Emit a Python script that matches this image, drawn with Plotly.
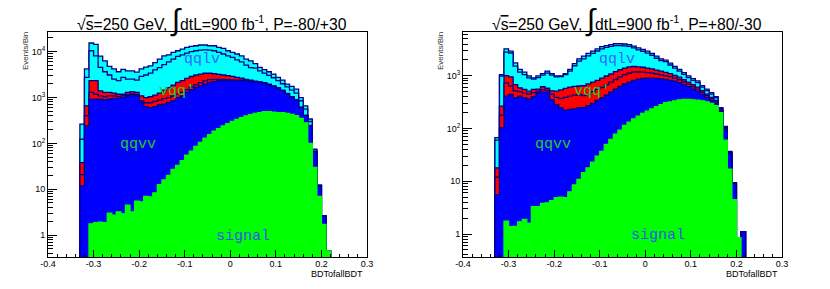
import numpy as np
import plotly.graph_objects as go

# ---------------- data ----------------
bin_edges = np.round(np.linspace(-0.33, 0.22, 56), 3)   # 55 bins of width 0.01

# Left panel: P = -80/+30  (events per bin, per component)
sig_L = [0, 0, 1.75, 1.85, 1.9, 1.85, 3.0, 2.7, 3.2, 2.9,
         4.5, 3.2, 5.5, 5.3, 7.0, 6.8, 8.3, 12.5, 16, 20,
         27, 33, 42, 55, 68, 86, 105, 130, 155, 185,
         210, 240, 270, 300, 335, 365, 395, 425, 450, 470,
         490, 490, 480, 470, 465, 450, 430, 400, 350, 280,
         100, 30, 7, 1.7, 0.45]
qqvv_L = [11.8, 240, 923, 923, 923, 888, 922, 952, 952, 997,
          1085, 1147, 1085, 775, 623, 593, 622, 678, 704, 760,
          823, 967, 1048, 1235, 1412, 1574, 1705, 1840, 1985, 2065,
          2120, 2090, 2060, 2030, 1995, 1965, 1905, 1825, 1750, 1680,
          1560, 1410, 1270, 1130, 935, 750, 590, 470, 255, 120,
          140, 35, 5, 0.9, 0]
vqq1_L = [9, 160, 365, 255, 165, 140, 165, 135, 95, 90,
          60, 50, 60, 70, 140, 170, 190, 190, 230, 220,
          230, 200, 210, 190, 200, 240, 290, 330, 310, 250,
          170, 150, 120, 90, 70, 50, 50, 40, 30, 20,
          20, 20, 20, 20, 20, 15, 15, 10, 7, 4,
          2, 1, 0, 0, 0]
vqq2_L = [17, 260, 1040, 1150, 310, 260, 200, 160, 130, 90,
          140, 150, 140, 240, 230, 270, 310, 370, 500, 650,
          790, 940, 1030, 1150, 1200, 1200, 1140, 1090, 940, 800,
          700, 620, 550, 480, 350, 270, 150, 90, 50, 30,
          30, 30, 30, 30, 30, 15, 15, 20, 8, 6,
          3, 1, 0, 0, 0]
qqlv1_L = [85, 2090, 8170, 5820, 3150, 2360, 1810, 1280, 1150, 1570,
           1240, 1180, 1110, 1810, 2100, 2360, 2870, 3250, 3750, 4350,
           5030, 5760, 6170, 6670, 7120, 7400, 7560, 7610, 7410, 7200,
           6500, 5800, 5150, 4600, 3850, 3350, 2600, 2120, 2100, 1600,
           1300, 1100, 900, 700, 550, 470, 400, 350, 230, 150,
           55, 5, 0.2, 0, 0]
qqlv2_L = [139, 1450, 5000, 6350, 3450, 2650, 1700, 1670, 1320, 1350,
           1270, 1270, 1200, 1300, 1500, 1500, 1800, 2400, 2900, 2500,
           2800, 2600, 2900, 3100, 3100, 3000, 3200, 3000, 2700, 3000,
           2700, 2900, 2350, 2200, 2300, 2100, 1800, 1800, 1120, 750,
           650, 600, 550, 400, 400, 270, 300, 270, 150, 100,
           40, 3, 0, 0, 0]

# Right panel: P = +80/-30
sig_R = [0, 0, 1.76, 1.38, 1.4, 1.7, 1.9, 1.6, 3.3, 3.3,
         3.8, 3.9, 4.3, 4.9, 5.0, 4.9, 6.3, 8.5, 10.9, 14.5,
         18, 23, 30, 37, 50, 62, 78, 93, 114, 132,
         153, 171, 193, 213, 236, 259, 285, 309, 318, 335,
         350, 355, 355, 350, 345, 335, 320, 300, 270, 200,
         60, 17, 4.5, 0.85, 0]
qqvv_R = [5.6, 103, 408, 444, 378, 408, 378, 363, 397, 471,
          486, 486, 350, 280, 240, 219, 224, 226, 239, 235,
          252, 277, 310, 343, 380, 428, 482, 537, 586, 628,
          667, 689, 697, 687, 664, 631, 585, 541, 502, 455,
          390, 325, 265, 210, 165, 105, 70, 40, 30, 15,
          35, 16, 4.5, 0, 1.1]
vqq1_R = [6.4, 77, 325, 190, 140, 90, 90, 85, 80, 35,
          50, 40, 95, 105, 125, 166, 180, 195, 190, 170,
          180, 200, 210, 220, 250, 270, 290, 320, 350, 360,
          360, 320, 280, 250, 220, 190, 170, 150, 140, 110,
          100, 80, 70, 60, 50, 40, 30, 25, 20, 10,
          5, 1, 0, 0, 0]
vqq2_R = [6, 85, 275, 315, 160, 90, 80, 60, 70, 50,
          80, 50, 70, 120, 170, 185, 200, 200, 200, 230,
          250, 260, 270, 300, 310, 320, 350, 350, 350, 360,
          320, 300, 280, 250, 230, 200, 180, 160, 140, 120,
          100, 80, 70, 60, 50, 40, 30, 25, 20, 10,
          4, 1, 0, 0, 0]
qqlv1_R = [42, 725, 1790, 1750, 840, 580, 500, 400, 310, 360,
           410, 540, 510, 440, 420, 475, 620, 920, 1260, 1450,
           1680, 1890, 2130, 2350, 2460, 2520, 2550, 2450, 2300, 2120,
           1880, 1620, 1450, 1300, 1100, 870, 730, 690, 500, 380,
           280, 220, 160, 140, 130, 90, 75, 60, 40, 10,
           4, 1, 0.3, 0, 0]
qqlv2_R = [7, 60, 440, 230, 230, 150, 120, 90, 50, 80,
           70, 110, 70, 50, 40, 50, 90, 150, 200, 250,
           270, 280, 290, 310, 290, 300, 320, 320, 300, 300,
           270, 270, 250, 230, 200, 200, 150, 130, 130, 110,
           100, 90, 80, 60, 60, 40, 35, 30, 20, 5,
           2, 1, 0.1, 0, 0]

SQRT_S = "√<span style='text-decoration:overline'>s</span>"
INTEG = "<span style='font-size:30px'>∫</span>"
titles = [SQRT_S + "=250 GeV, " + INTEG + "dtL=900 fb<sup>-1</sup>, P=-80/+30",
          SQRT_S + "=250 GeV, " + INTEG + "dtL=900 fb<sup>-1</sup>, P=+80/-30"]
x_tick_vals = [-0.4, -0.3, -0.2, -0.1, 0.0, 0.1, 0.2, 0.3]
x_tick_text = ["-0.4", "-0.3", "-0.2", "-0.1", "0", "0.1", "0.2", "0.3"]
y_tick_vals = [1, 10, 100, 1000, 10000]
y_tick_text = ["1", "10", "10<sup>2</sup>", "10<sup>3</sup>", "10<sup>4</sup>"]
x_title = "BDTofallBDT"
y_title = "Events/Bin"
# process labels: (text, x, y-value, colour)
labels_L = [("qqlv", -0.062, 6700, "#3366ff"), ("vqq'", -0.118, 1340, "#22cc22"),
            ("qqvv", -0.203, 93, "#22cc22"), ("signal", 0.027, 0.95, "#3355ee")]
labels_R = [("qqlv", -0.062, 2000, "#3366ff"), ("vqq'", -0.118, 495, "#22cc22"),
            ("qqvv", -0.203, 49, "#22cc22"), ("signal", 0.027, 0.93, "#3355ee")]

# ---------------- styling ----------------
NAVY = "#000088"
fill_cols = ["#00ff00", "#0000ff", "#ff0000", "#ff0000", "#00ffff", "#00ffff"]
line_cols = ["#00ff00", NAVY, NAVY, NAVY, NAVY, NAVY]
FLOOR = 1e-3
W, H = 830, 289
panels = [
    dict(data=[sig_L, qqvv_L, vqq1_L, vqq2_L, qqlv1_L, qqlv2_L], labels=labels_L,
         xa="x", ya="y", x0=48, x1=367, yr=[-0.48, 4.43], title=titles[0], tx=75),
    dict(data=[sig_R, qqvv_R, vqq1_R, vqq2_R, qqlv1_R, qqlv2_R], labels=labels_R,
         xa="x2", ya="y2", x0=463, x1=782, yr=[-0.436, 3.83], title=titles[1], tx=490),
]
TOP, BOT = 32, 257

fig = go.Figure()


def step_xy(vals):
    v = np.where(vals > 0, vals, FLOOR)
    xs = np.concatenate([[bin_edges[0]], bin_edges[:-1], [bin_edges[-1]], [bin_edges[-1]]])
    ys = np.concatenate([[FLOOR], v, [v[-1]], [FLOOR]])
    return xs, ys


annotations = []
minor_y = [k * 10.0 ** d for d in range(-1, 5) for k in range(2, 10)]
for i, p in enumerate(panels):
    stack = np.cumsum(np.array(p["data"], dtype=float), axis=0)
    for j in range(len(stack) - 1, -1, -1):
        xs, ys = step_xy(stack[j])
        fig.add_trace(go.Scatter(
            x=xs, y=ys, mode="lines", line=dict(shape="hv", color=line_cols[j], width=1.3),
            fill="tozeroy", fillcolor=fill_cols[j], xaxis=p["xa"], yaxis=p["ya"],
            hoverinfo="skip", showlegend=False))
    sfx = "" if i == 0 else "2"
    common_x = dict(
        domain=[p["x0"] / W, p["x1"] / W], range=[-0.4, 0.3], anchor="y" + sfx,
        tickmode="array", tickvals=x_tick_vals, ticktext=x_tick_text,
        ticks="inside", ticklen=7, tickcolor="black", tickwidth=1,
        showline=True, mirror=True, linecolor="black", linewidth=1,
        showgrid=False, zeroline=False, automargin=False, ticklabelstandoff=-2,
        tickfont=dict(family="Liberation Sans", size=9, color="black"),
        minor=dict(tickmode="linear", tick0=-0.4, dtick=0.02, ticks="inside",
                   ticklen=3, tickcolor="black", tickwidth=1, showgrid=False),
    )
    common_y = dict(
        type="log", domain=[(H - BOT) / H, (H - TOP) / H], range=p["yr"], anchor="x" + sfx,
        tickmode="array", tickvals=y_tick_vals, ticktext=y_tick_text,
        ticks="inside", ticklen=9, tickcolor="black", tickwidth=1,
        showline=True, mirror=True, linecolor="black", linewidth=1,
        showgrid=False, zeroline=False, automargin=False,
        tickfont=dict(family="Liberation Sans", size=9, color="black"),
        minor=dict(tickmode="array", tickvals=minor_y, ticks="inside",
                   ticklen=5, tickcolor="black", tickwidth=1, showgrid=False),
    )
    fig.update_layout(**{"xaxis" + sfx: common_x, "yaxis" + sfx: common_y})

    annotations.append(dict(text=p["title"], xref="paper", yref="paper", x=p["tx"] / W,
                            y=(H - 20) / H, xanchor="left", yanchor="middle", showarrow=False,
                            font=dict(family="Liberation Sans", size=15.7, color="black")))
    annotations.append(dict(text=y_title, xref="paper", yref="paper",
                            x=(p["x0"] - 23) / W, y=(H - 30) / H, xanchor="center", yanchor="top",
                            textangle=-90, showarrow=False,
                            font=dict(family="Liberation Sans", size=8, color="#333333")))
    annotations.append(dict(text=x_title, xref="paper", yref="paper",
                            x=(p["x1"] - 2) / W, y=(H - 274) / H, xanchor="right", yanchor="middle",
                            showarrow=False,
                            font=dict(family="Liberation Sans", size=9, color="black")))
    for (t, lx, ly, c) in p["labels"]:
        annotations.append(dict(text=t, xref=p["xa"], yref=p["ya"], x=lx, y=np.log10(ly),
                                xanchor="center", yanchor="middle", showarrow=False,
                                font=dict(family="Liberation Mono", size=15, color=c)))

fig.update_layout(width=W, height=H, margin=dict(l=0, r=0, t=0, b=0, autoexpand=False),
                  paper_bgcolor="white", plot_bgcolor="white", showlegend=False,
                  annotations=annotations)
fig.write_html("out.html", config={"displayModeBar": False},
               post_script="document.body.style.margin='0px';document.body.style.padding='0px';"
                           "document.body.style.overflow='hidden';"
                           "document.documentElement.style.overflow='hidden';")
